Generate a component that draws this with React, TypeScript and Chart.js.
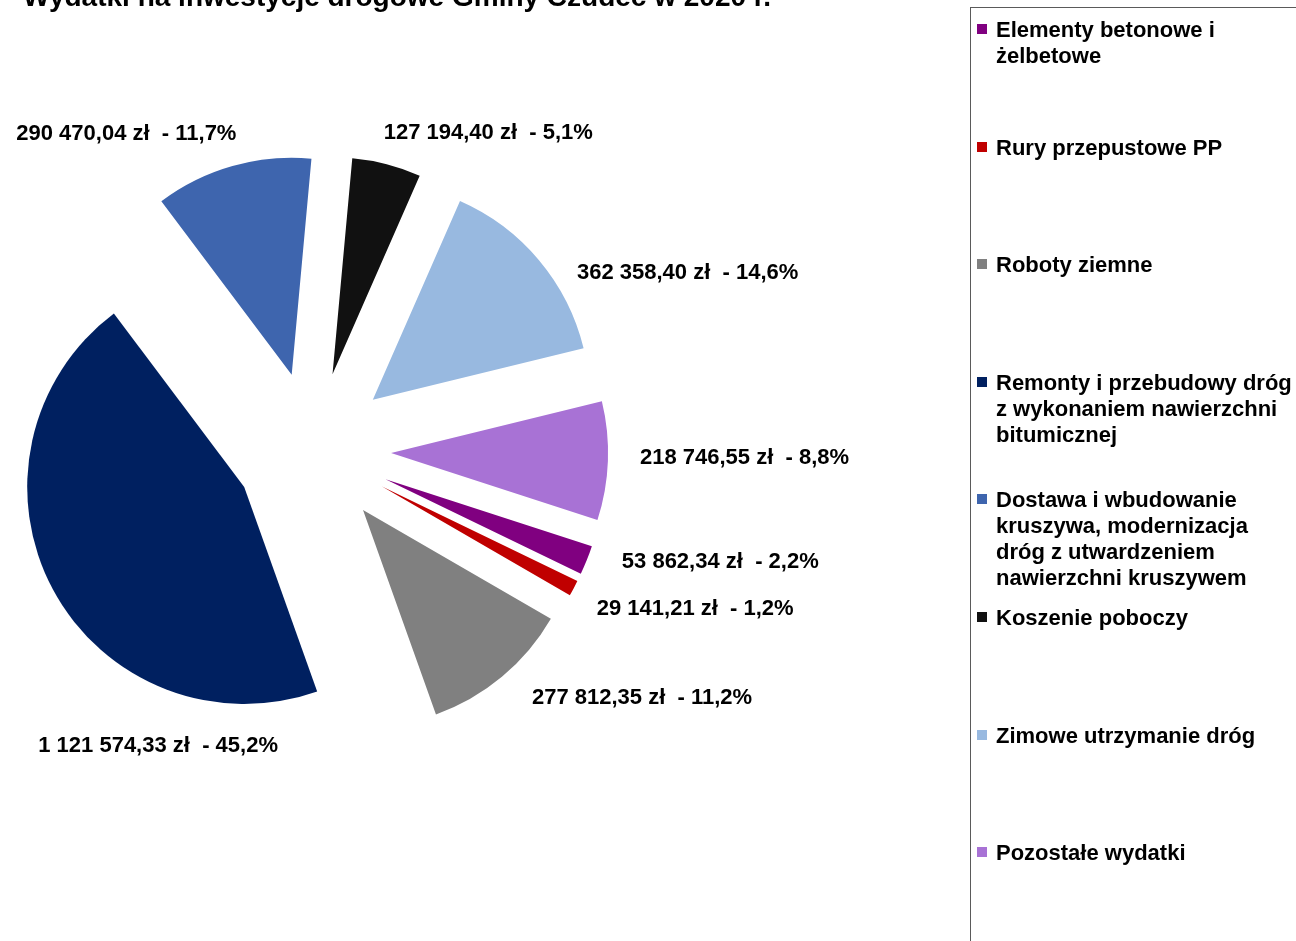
import React, { useEffect, useRef } from "react";
import { Chart, registerables } from "chart.js";

Chart.register(...registerables);

const TITLE = "Wydatki na inwestycje drogowe Gminy Czudec w 2020 r.";

const categories = [
  "Elementy betonowe i żelbetowe",
  "Rury przepustowe PP",
  "Roboty ziemne",
  "Remonty i przebudowy dróg z wykonaniem nawierzchni bitumicznej",
  "Dostawa i wbudowanie kruszywa, modernizacja dróg z utwardzeniem nawierzchni kruszywem",
  "Koszenie poboczy",
  "Zimowe utrzymanie dróg",
  "Pozostałe wydatki",
];

const legendLines = [
  ["Elementy betonowe i", "żelbetowe"],
  ["Rury przepustowe PP"],
  ["Roboty ziemne"],
  ["Remonty i przebudowy dróg", "z wykonaniem nawierzchni", "bitumicznej"],
  ["Dostawa i wbudowanie", "kruszywa, modernizacja", "dróg z utwardzeniem", "nawierzchni kruszywem"],
  ["Koszenie poboczy"],
  ["Zimowe utrzymanie dróg"],
  ["Pozostałe wydatki"],
];

const values = [53862.34, 29141.21, 277812.35, 1121574.33, 290470.04, 127194.4, 362358.4, 218746.55];

const colors = ["#800080", "#C00000", "#808080", "#002060", "#3E65AE", "#111111", "#98B9E0", "#A872D5"];

// label placement relative to each slice's outer edge point: [dx, dy, align]
const labelNudges: [number, number, CanvasTextAlign][] = [
  [35, 2, "left"],
  [23, 21, "left"],
  [30, 21, "left"],
  [105, 156, "center"],
  [4, -32, "right"],
  [-3, -31, "left"],
  [38, 13, "left"],
  [32, -3, "left"],
];

const ROTATION = 108;
const RADIUS = 217;
const EXPLODE = 0.36;
const FONT = '"Liberation Sans", Arial, Helvetica, sans-serif';

const total = values.reduce((a, b) => a + b, 0);

function fmtLabel(v: number): string {
  const [intPart, dec] = v.toFixed(2).split(".");
  const grouped = intPart.replace(/\B(?=(\d{3})+(?!\d))/g, " ");
  const pct = ((v / total) * 100).toFixed(1).replace(".", ",");
  return `${grouped},${dec} zł  - ${pct}%`;
}

const explodePlugin = {
  id: "explode",
  afterDatasetsUpdate(chart: any) {
    const meta = chart.getDatasetMeta(0);
    meta.data.forEach((arc: any) => {
      const mid = (arc.startAngle + arc.endAngle) / 2;
      const d = arc.outerRadius * EXPLODE;
      arc.x += Math.cos(mid) * d;
      arc.y += Math.sin(mid) * d;
    });
  },
};

const labelPlugin = {
  id: "sliceLabels",
  afterDatasetsDraw(chart: any) {
    const ctx = chart.ctx;
    const meta = chart.getDatasetMeta(0);
    ctx.save();
    ctx.fillStyle = "#000000";
    ctx.font = `bold 22px ${FONT}`;
    ctx.textBaseline = "middle";
    meta.data.forEach((arc: any, i: number) => {
      const mid = (arc.startAngle + arc.endAngle) / 2;
      const ox = arc.x + Math.cos(mid) * arc.outerRadius;
      const oy = arc.y + Math.sin(mid) * arc.outerRadius;
      const [dx, dy, align] = labelNudges[i];
      ctx.textAlign = align;
      ctx.fillText(fmtLabel(values[i]), ox + dx, oy + dy);
    });
    ctx.font = `bold 28px ${FONT}`;
    ctx.textAlign = "center";
    ctx.textBaseline = "alphabetic";
    ctx.fillText(TITLE, 397, 6);
    ctx.restore();
  },
};

export default function App() {
  const canvasRef = useRef<HTMLCanvasElement | null>(null);

  useEffect(() => {
    if (!canvasRef.current) return;
    const chart = new Chart(canvasRef.current, {
      type: "pie",
      data: {
        labels: categories,
        datasets: [
          {
            data: values,
            backgroundColor: colors,
            borderWidth: 0,
          },
        ],
      },
      options: {
        responsive: false,
        animation: false,
        events: [],
        rotation: ROTATION,
        radius: RADIUS,
        layout: { padding: { left: 0, top: 0, right: 670, bottom: 41 } },
        plugins: {
          legend: { display: false },
          tooltip: { enabled: false },
          title: { display: false },
        },
      },
      plugins: [explodePlugin, labelPlugin],
    });
    return () => chart.destroy();
  }, []);

  return (
    <div
      style={{
        position: "absolute",
        left: 0,
        top: 0,
        width: 1296,
        height: 941,
        overflow: "hidden",
        background: "#ffffff",
      }}
    >
      <canvas
        ref={canvasRef}
        width={1296}
        height={941}
        style={{ position: "absolute", left: 0, top: 0, width: 1296, height: 941, display: "block" }}
      />
      <div
        style={{
          position: "absolute",
          left: 970,
          top: 7,
          width: 400,
          height: 1000,
          borderLeft: "1px solid #5a5a5a",
          borderTop: "1px solid #5a5a5a",
        }}
      />
      {legendLines.map((lines, i) => (
        <div
          key={i}
          style={{
            position: "absolute",
            left: 977,
            top: 17 + i * 117.6,
            fontFamily: FONT,
            fontWeight: "bold",
            fontSize: 22,
            lineHeight: "26px",
            color: "#000",
            whiteSpace: "nowrap",
          }}
        >
          <div
            style={{
              position: "absolute",
              left: 0,
              top: 7,
              width: 10,
              height: 10,
              background: colors[i],
            }}
          />
          <div style={{ marginLeft: 19 }}>
            {lines.map((l, j) => (
              <div key={j}>{l}</div>
            ))}
          </div>
        </div>
      ))}
    </div>
  );
}
